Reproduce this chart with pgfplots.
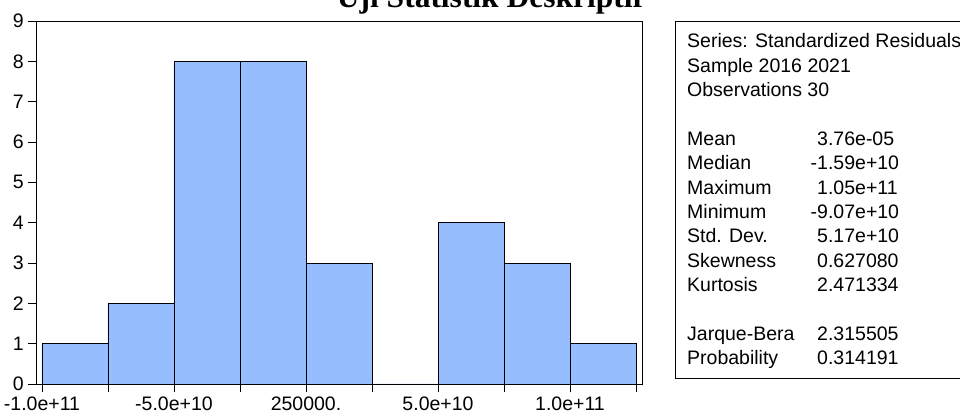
\documentclass[border=0pt]{standalone}
\usepackage{pgfplots}
\pgfplotsset{compat=1.18}
\usepackage{fontspec}
\setmainfont{Liberation Sans}
\newfontfamily\titlefont{Liberation Serif}
\definecolor{barblue}{RGB}{150,190,255}
\begin{document}
\fontsize{19.5}{23}\selectfont
\begin{tikzpicture}
\path[use as bounding box] (0pt,0pt) rectangle (960pt,414pt);
\clip (0pt,0pt) rectangle (960pt,414pt);
% title (cut off at top as in the reference)
\node[anchor=base, inner sep=0pt, font=\titlefont\bfseries\fontsize{31.5}{34}\selectfont] at (490pt,406pt) {Uji Statistik Deskriptif};
\begin{axis}[
  at={(36pt,30pt)}, anchor=south west,
  scale only axis, width=606pt, height=363pt,
  xmin=-10.227, xmax=12.727, ymin=0, ymax=9,
  axis line style={line width=0.9pt},
  xtick={-10,-5,0,5,10},
  xticklabels={-1.0e+11,-5.0e+10,250000.,5.0e+10,1.0e+11},
  minor xtick={-7.5,-2.5,2.5,7.5,12.5},
  ytick={0,1,2,3,4,5,6,7,8,9},
  tick align=outside,
  xtick pos=bottom, ytick pos=left,
  major tick length=8.5pt, minor tick length=8.5pt,
  tick style={black, line width=0.9pt},
  every tick label/.append style={font=\fontsize{19.5}{23}\selectfont},
  xticklabel style={yshift=2.5pt},
  yticklabel style={xshift=3pt},
  /pgf/number format/assume math mode=true,
]
\addplot[ybar interval, fill=barblue, draw=black, line width=0.9pt] coordinates {
  (-10,1) (-7.5,2) (-5,8) (-2.5,8) (0,3) (2.5,0) (5,4) (7.5,3) (10,1) (12.5,1)
};
\end{axis}
% statistics box
\draw[line width=0.9pt] (675pt,393pt) rectangle (975pt,36pt);
\begin{scope}[every node/.style={anchor=base west, inner sep=0pt}]
\node at (687pt,366.3pt) {Series: Standardized Residuals};
\node at (687pt,341.9pt) {Sample 2016 2021};
\node at (687pt,317.5pt) {Observations 30};
\node at (687pt,268.7pt) {Mean};
\node at (687pt,244.3pt) {Median};
\node at (687pt,219.9pt) {Maximum};
\node at (687pt,195.5pt) {Minimum};
\node at (687pt,171.1pt) {Std. Dev.};
\node at (687pt,146.7pt) {Skewness};
\node at (687pt,122.3pt) {Kurtosis};
\node at (687pt,73.5pt) {Jarque-Bera};
\node at (687pt,49.1pt) {Probability};
\node at (817pt,268.7pt) {3.76e-05};
\node at (817pt,244.3pt) {\llap{-}1.59e+10};
\node at (817pt,219.9pt) {1.05e+11};
\node at (817pt,195.5pt) {\llap{-}9.07e+10};
\node at (817pt,171.1pt) {5.17e+10};
\node at (817pt,146.7pt) {0.627080};
\node at (817pt,122.3pt) {2.471334};
\node at (817pt,73.5pt) {2.315505};
\node at (817pt,49.1pt) {0.314191};
\end{scope}
\end{tikzpicture}
\end{document}
